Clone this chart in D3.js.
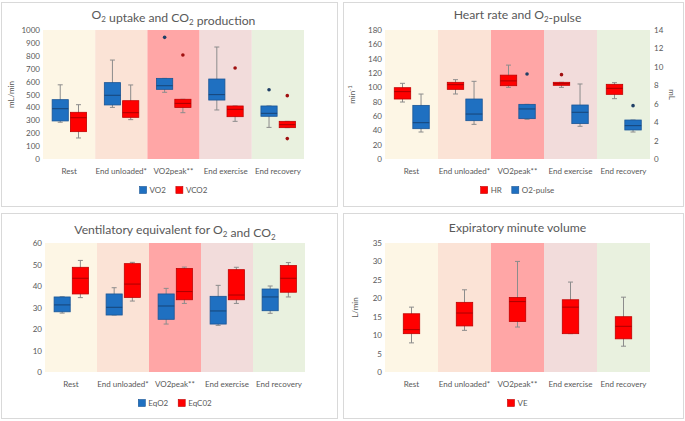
<!DOCTYPE html>
<html>
<head>
<meta charset="utf-8">
<script src="https://cdn.jsdelivr.net/npm/d3@7"></script>
<style>
  body { margin: 0; background: #fff; }
  svg { display: block; font-family: Lato, "Open Sans", sans-serif; }
</style>
</head>
<body>
<svg id="chart" width="685" height="421"></svg>
<script>
// categories and phase colours
const categories = ["Rest", "End unloaded*", "VO2peak**", "End exercise", "End recovery"]
const bandColors = ["#fdf6e5", "#fbe3d6", "#ffa6a6", "#f2dcdb", "#e9f1df"]

// box data: [min, q1, median, q3, max] per category
const vo2 = [[285, 295, 390, 460, 575], [400, 419, 494, 592, 767], [517, 540, 568, 625, 625], [380, 457, 499, 620, 868], [245, 331, 354, 411, 411]]
const vo2Out = [[], [], [943], [], [537]]
const vco2 = [[163, 212, 320, 362, 421], [305, 323, 359, 452, 574], [359, 400, 431, 463, 463], [292, 328, 385, 411, 411], [243, 243, 266, 292, 292]]
const vco2Out = [[], [], [806], [705], [491, 158]]

const hr = [[79.5, 83.7, 94, 99.5, 105.6], [90.7, 97.2, 103.7, 107, 110.7], [100, 102.3, 109, 117, 131], [100, 102.8, 105, 107, 107], [84.2, 90.2, 98.6, 104.2, 106.5]]
const hrOut = [[], [], [], [117.7], []]
const o2pulse = [[2.93, 3.29, 3.94, 5.82, 7.05], [3.76, 4.16, 4.88, 6.51, 8.43], [4.3, 4.38, 5.43, 5.93, 5.93], [3.55, 3.84, 5.07, 5.86, 8.14], [2.93, 3.15, 3.62, 4.23, 4.23]]
const o2pulseOut = [[], [], [9.23], [], [5.79]]

const eqo2 = [[27.4, 28, 31.2, 34.9, 35], [26.5, 26.5, 30.1, 36.3, 39.2], [22.3, 24.5, 30.7, 36.3, 38.9], [21.7, 22.3, 28.4, 35.2, 40.3], [27.3, 28.5, 34.9, 38.6, 40]]
const eqco2 = [[34.6, 36.3, 43.6, 48.7, 51.9], [33, 34.7, 40.9, 50.4, 51], [31.9, 33.6, 37.4, 48.1, 48.8], [31.9, 33.6, 35.8, 47.6, 48.7], [34.9, 37.1, 43.6, 49.5, 50.9]]

const ve = [[7.9, 10.4, 11.5, 15.8, 17.6], [11.3, 12.5, 16, 18.9, 22.3], [12.2, 13.7, 19.1, 20.2, 30], [10.4, 10.4, 17.6, 19.6, 24.4], [7, 9, 12.4, 15, 20.3]]

// tick values
const ticksVO2 = d3.range(0, 1001, 100)
const ticksHR = d3.range(0, 181, 20)
const ticksPulse = d3.range(0, 15, 2)
const ticksEq = d3.range(0, 61, 10)
const ticksVE = d3.range(0, 36, 5)

const blue = {fill: "#1f70c1", stroke: "#1a5595", median: "#163f6e", dot: "#1f3f66"}
const red = {fill: "#ff0000", stroke: "#c00000", median: "#a00000", dot: "#a01010"}
const textCol = "#595959"

let svg = d3.select("#chart")

function drawPanel (p) {
  let g = svg.append("g")

  g.append("rect")
    .attr("x", p.box[0] + 0.5).attr("y", p.box[1] + 0.5)
    .attr("width", p.box[2] - p.box[0]).attr("height", p.box[3] - p.box[1])
    .attr("fill", "#fff").attr("stroke", "#d9d9d9")

  let x = d3.scaleBand().domain(categories).range([p.plot[0], p.plot[1]])
  let y = d3.scaleLinear().domain([0, d3.max(p.ticks)]).range([p.plot[3], p.plot[2]])
  let y2 = p.ticks2 ? d3.scaleLinear().domain([0, d3.max(p.ticks2)]).range([p.plot[3], p.plot[2]]) : null

  g.selectAll(".band").data(categories).enter().append("rect")
    .attr("x", d => x(d)).attr("y", p.plot[2])
    .attr("width", x.bandwidth()).attr("height", p.plot[3] - p.plot[2])
    .attr("fill", (d, i) => bandColors[i])

  // left axis
  let ax = g.append("g").attr("transform", `translate(${p.plot[0] - 3},0)`)
    .call(d3.axisLeft(y).tickValues(p.ticks).tickFormat(d3.format("d")).tickSize(0).tickPadding(0))
  ax.select(".domain").remove()
  ax.selectAll("text").attr("fill", textCol).style("font-size", "8px").style("font-family", "Lato, sans-serif")

  if (y2) {
    let ax2 = g.append("g").attr("transform", `translate(${p.plot[1] + 4},0)`)
      .call(d3.axisRight(y2).tickValues(p.ticks2).tickFormat(d3.format("d")).tickSize(0).tickPadding(0))
    ax2.select(".domain").remove()
    ax2.selectAll("text").attr("fill", textCol).style("font-size", "8px").style("font-family", "Lato, sans-serif")
  }

  // category labels
  g.selectAll(".cat").data(categories).enter().append("text")
    .attr("x", d => x(d) + x.bandwidth() / 2).attr("y", p.plot[3] + 15)
    .attr("text-anchor", "middle").attr("fill", textCol).style("font-size", "8px")
    .text(d => d)

  // title with subscripts
  let t = g.append("text")
    .attr("x", (p.plot[0] + p.plot[1]) / 2).attr("y", p.titleY)
    .attr("text-anchor", "middle").attr("fill", textCol).style("font-size", "12.2px")
  p.title.forEach(seg => {
    if (seg.sub) {
      t.append("tspan").attr("dy", 3).style("font-size", "8px").text(seg.t)
      t.append("tspan").attr("dy", -3).text("")
    } else {
      t.append("tspan").text(seg.t)
    }
  })

  if (p.yLabel) {
    let yl = g.append("text")
      .attr("transform", `translate(${p.yLabelX},${(p.plot[2] + p.plot[3]) / 2}) rotate(-90)`)
      .attr("text-anchor", "middle").attr("fill", textCol).style("font-size", "8px")
    yl.append("tspan").text(p.yLabel)
    if (p.yLabelSup) yl.append("tspan").attr("dy", -3).style("font-size", "6px").text(p.yLabelSup)
  }
  if (p.y2Label) {
    g.append("text")
      .attr("transform", `translate(${p.y2LabelX},${(p.plot[2] + p.plot[3]) / 2}) rotate(90)`)
      .attr("text-anchor", "middle").attr("fill", textCol).style("font-size", "8px")
      .text(p.y2Label)
  }

  // boxes
  let bw = x.bandwidth()
  let boxW = bw * 0.31
  p.series.forEach(s => {
    let sc = s.right ? y2 : y
    s.data.forEach((v, i) => {
      let cx = x(categories[i]) + bw / 2 + s.offset * bw
      let bg = g.append("g")
      bg.append("line").attr("x1", cx).attr("x2", cx).attr("y1", sc(v[0])).attr("y2", sc(v[4]))
        .attr("stroke", "#8c8c8c").attr("stroke-width", 1)
      ;[v[0], v[4]].forEach(w => {
        bg.append("line").attr("x1", cx - 2.5).attr("x2", cx + 2.5).attr("y1", sc(w)).attr("y2", sc(w))
          .attr("stroke", "#8c8c8c").attr("stroke-width", 1)
      })
      bg.append("rect")
        .attr("x", cx - boxW / 2).attr("y", sc(v[3]))
        .attr("width", boxW).attr("height", Math.max(1, sc(v[1]) - sc(v[3])))
        .attr("fill", s.col.fill).attr("stroke", s.col.stroke).attr("stroke-width", 0.8)
      bg.append("line").attr("x1", cx - boxW / 2).attr("x2", cx + boxW / 2)
        .attr("y1", sc(v[2])).attr("y2", sc(v[2]))
        .attr("stroke", s.col.median).attr("stroke-width", 0.9)
      ;(s.out ? s.out[i] : []).forEach(o => {
        bg.append("circle").attr("cx", cx).attr("cy", sc(o)).attr("r", 1.8).attr("fill", s.col.dot)
      })
    })
  })

  // legend
  let lg = g.append("g")
  let lx = 0
  p.series.forEach(s => {
    lg.append("rect").attr("x", lx).attr("y", -3.5).attr("width", 7).attr("height", 7)
      .attr("fill", s.col.fill).attr("stroke", s.col.stroke).attr("stroke-width", 0.6)
    let tx = lg.append("text").attr("x", lx + 10).attr("y", 3)
      .attr("fill", textCol).style("font-size", "8px").text(s.name)
    lx += 10 + tx.node().getComputedTextLength() + 10
  })
  lx -= 10
  lg.attr("transform", `translate(${(p.plot[0] + p.plot[1]) / 2 - lx / 2},${p.legendY})`)
}

drawPanel({
  box: [1, 2, 337, 206], plot: [43, 304, 30, 159],
  ticks: ticksVO2, titleY: 19, legendY: 190,
  title: [{t: "O"}, {t: "2", sub: true}, {t: " uptake and CO"}, {t: "2", sub: true}, {t: " production"}],
  yLabel: "mL/min", yLabelX: 14,
  series: [
    {name: "VO2", data: vo2, out: vo2Out, col: blue, offset: -0.17},
    {name: "VCO2", data: vco2, out: vco2Out, col: red, offset: 0.18}
  ]
})

drawPanel({
  box: [343, 2, 683, 206], plot: [385, 650, 30, 159],
  ticks: ticksHR, ticks2: ticksPulse, titleY: 19, legendY: 190,
  title: [{t: "Heart rate and O"}, {t: "2", sub: true}, {t: "-pulse"}],
  yLabel: "min", yLabelSup: "-1", yLabelX: 355,
  y2Label: "mL", y2LabelX: 669,
  series: [
    {name: "HR", data: hr, out: hrOut, col: red, offset: -0.17},
    {name: "O2-pulse", data: o2pulse, out: o2pulseOut, col: blue, right: true, offset: 0.18}
  ]
})

drawPanel({
  box: [1, 213, 337, 418], plot: [45, 305, 243, 372],
  ticks: ticksEq, titleY: 234, legendY: 403,
  title: [{t: "Ventilatory equivalent for O"}, {t: "2", sub: true}, {t: " and CO"}, {t: "2", sub: true}],
  series: [
    {name: "EqO2", data: eqo2, col: blue, offset: -0.17},
    {name: "EqC02", data: eqco2, col: red, offset: 0.18}
  ]
})

drawPanel({
  box: [343, 213, 683, 418], plot: [385, 650, 243, 372],
  ticks: ticksVE, titleY: 232, legendY: 403,
  title: [{t: "Expiratory minute volume"}],
  yLabel: "L/min", yLabelX: 358,
  series: [
    {name: "VE", data: ve, col: red, offset: 0}
  ]
})
</script>
</body>
</html>
